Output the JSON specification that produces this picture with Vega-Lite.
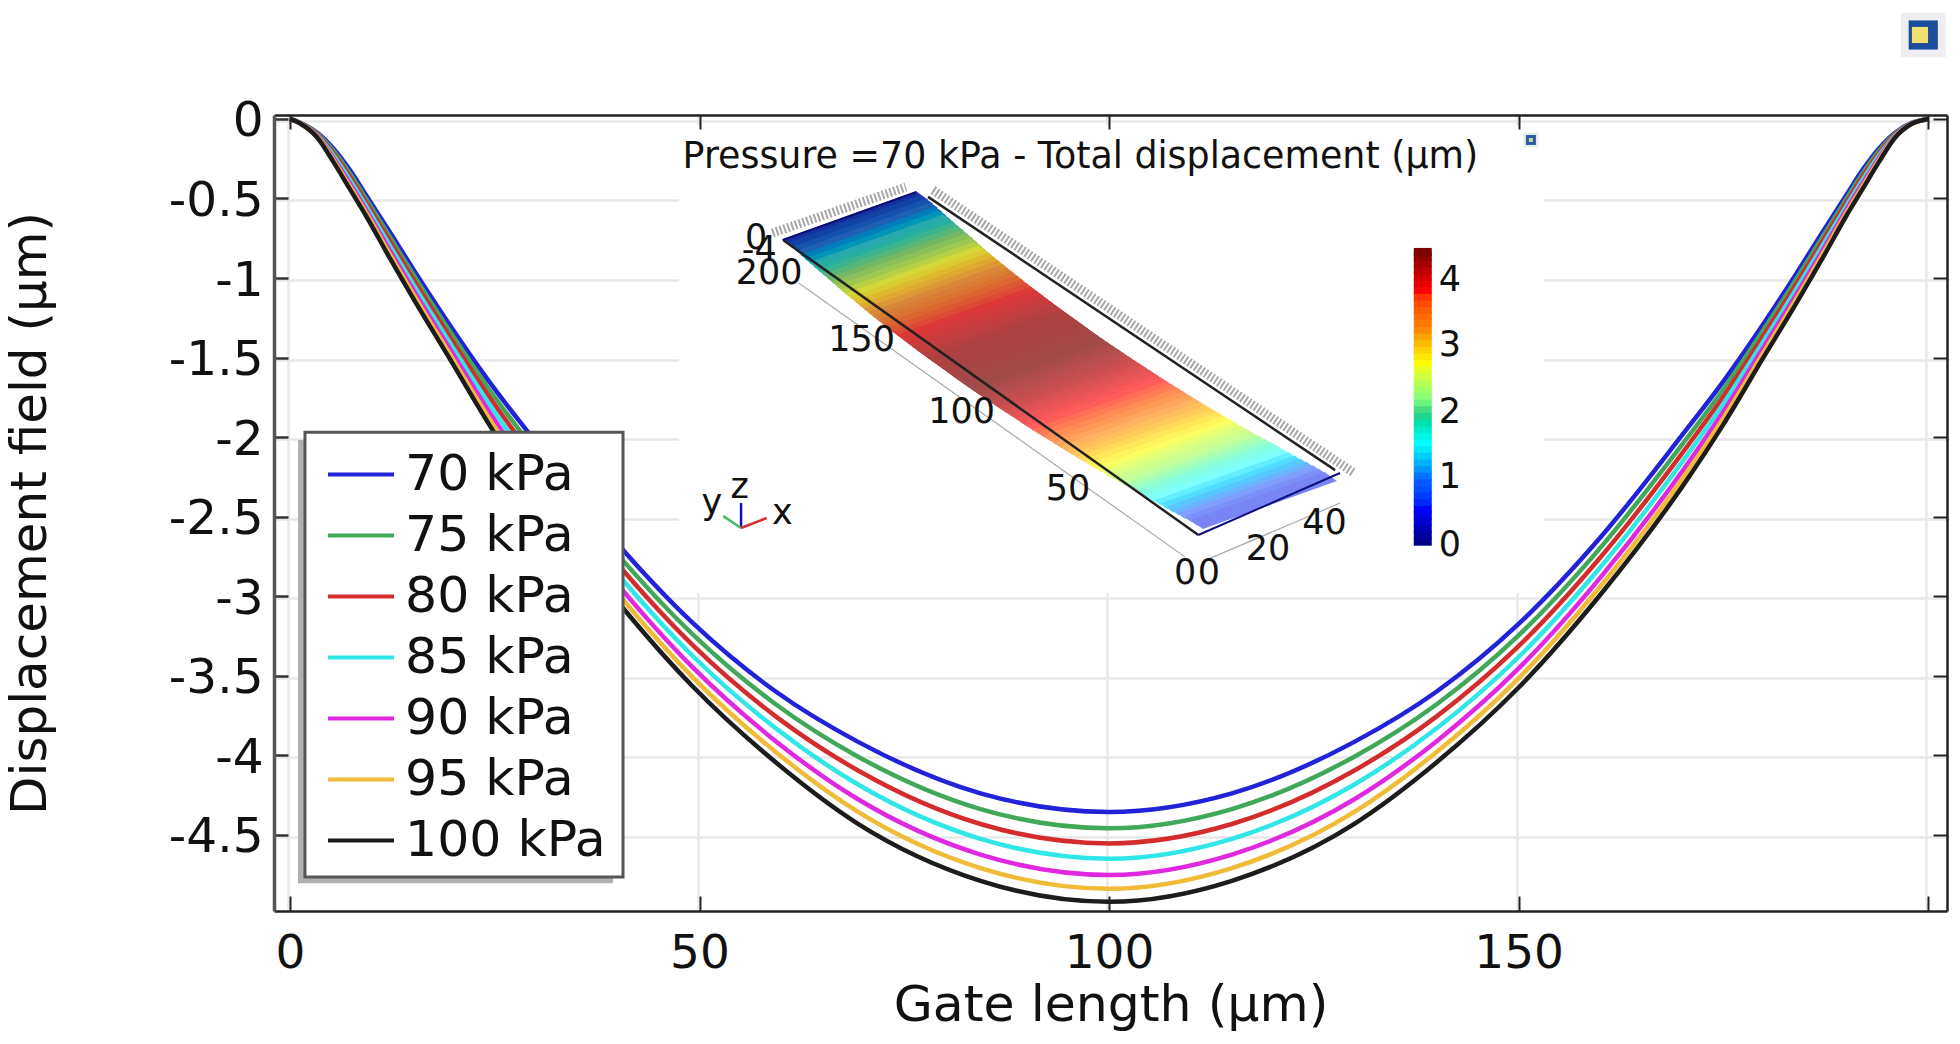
{"$schema":"https://vega.github.io/schema/vega-lite/v6.json","width":1673,"height":796,"autosize":{"type":"none"},"padding":{"left":274,"top":115,"right":13,"bottom":133},"background":"white","config":{"font":"DejaVu Sans","view":{"stroke":null}},"datasets":{"curves":[
{"x":0,"y":0,"p":"70 kPa"},{"x":1.3,"y":-0.025,"p":"70 kPa"},{"x":3.3,"y":-0.085,"p":"70 kPa"},{"x":5.3,"y":-0.185,"p":"70 kPa"},{"x":7.3,"y":-0.32,"p":"70 kPa"},{"x":9.3,"y":-0.48,"p":"70 kPa"},{"x":12.3,"y":-0.72,"p":"70 kPa"},{"x":15.3,"y":-0.965,"p":"70 kPa"},{"x":19.3,"y":-1.28,"p":"70 kPa"},{"x":24.3,"y":-1.65,"p":"70 kPa"},{"x":29.3,"y":-1.985,"p":"70 kPa"},{"x":39.3,"y":-2.63,"p":"70 kPa"},{"x":49.3,"y":-3.175,"p":"70 kPa"},{"x":59.3,"y":-3.6,"p":"70 kPa"},{"x":69.3,"y":-3.915,"p":"70 kPa"},{"x":84.3,"y":-4.24,"p":"70 kPa"},{"x":100,"y":-4.357,"p":"70 kPa"},{"x":115,"y":-4.24,"p":"70 kPa"},{"x":130,"y":-3.915,"p":"70 kPa"},{"x":140,"y":-3.6,"p":"70 kPa"},{"x":150,"y":-3.175,"p":"70 kPa"},{"x":160,"y":-2.63,"p":"70 kPa"},{"x":170,"y":-1.985,"p":"70 kPa"},{"x":175,"y":-1.65,"p":"70 kPa"},{"x":180,"y":-1.28,"p":"70 kPa"},{"x":184,"y":-0.965,"p":"70 kPa"},{"x":187,"y":-0.72,"p":"70 kPa"},{"x":190,"y":-0.48,"p":"70 kPa"},{"x":192,"y":-0.32,"p":"70 kPa"},{"x":194,"y":-0.185,"p":"70 kPa"},{"x":196,"y":-0.085,"p":"70 kPa"},{"x":198,"y":-0.025,"p":"70 kPa"},{"x":200,"y":0,"p":"70 kPa"},
{"x":0,"y":0,"p":"75 kPa"},{"x":1.3,"y":-0.026,"p":"75 kPa"},{"x":3.3,"y":-0.09,"p":"75 kPa"},{"x":5.3,"y":-0.2,"p":"75 kPa"},{"x":7.3,"y":-0.342,"p":"75 kPa"},{"x":9.3,"y":-0.503,"p":"75 kPa"},{"x":12.3,"y":-0.75,"p":"75 kPa"},{"x":15.3,"y":-0.998,"p":"75 kPa"},{"x":19.3,"y":-1.318,"p":"75 kPa"},{"x":24.3,"y":-1.699,"p":"75 kPa"},{"x":29.3,"y":-2.044,"p":"75 kPa"},{"x":39.3,"y":-2.695,"p":"75 kPa"},{"x":49.3,"y":-3.247,"p":"75 kPa"},{"x":59.3,"y":-3.68,"p":"75 kPa"},{"x":69.3,"y":-4.008,"p":"75 kPa"},{"x":84.3,"y":-4.339,"p":"75 kPa"},{"x":100,"y":-4.46,"p":"75 kPa"},{"x":115,"y":-4.339,"p":"75 kPa"},{"x":130,"y":-4.008,"p":"75 kPa"},{"x":140,"y":-3.68,"p":"75 kPa"},{"x":150,"y":-3.247,"p":"75 kPa"},{"x":160,"y":-2.695,"p":"75 kPa"},{"x":170,"y":-2.044,"p":"75 kPa"},{"x":175,"y":-1.699,"p":"75 kPa"},{"x":180,"y":-1.318,"p":"75 kPa"},{"x":184,"y":-0.998,"p":"75 kPa"},{"x":187,"y":-0.75,"p":"75 kPa"},{"x":190,"y":-0.503,"p":"75 kPa"},{"x":192,"y":-0.342,"p":"75 kPa"},{"x":194,"y":-0.2,"p":"75 kPa"},{"x":196,"y":-0.09,"p":"75 kPa"},{"x":198,"y":-0.026,"p":"75 kPa"},{"x":200,"y":0,"p":"75 kPa"},
{"x":0,"y":0,"p":"80 kPa"},{"x":1.3,"y":-0.027,"p":"80 kPa"},{"x":3.3,"y":-0.096,"p":"80 kPa"},{"x":5.3,"y":-0.215,"p":"80 kPa"},{"x":7.3,"y":-0.362,"p":"80 kPa"},{"x":9.3,"y":-0.526,"p":"80 kPa"},{"x":12.3,"y":-0.778,"p":"80 kPa"},{"x":15.3,"y":-1.03,"p":"80 kPa"},{"x":19.3,"y":-1.354,"p":"80 kPa"},{"x":24.3,"y":-1.745,"p":"80 kPa"},{"x":29.3,"y":-2.099,"p":"80 kPa"},{"x":39.3,"y":-2.756,"p":"80 kPa"},{"x":49.3,"y":-3.315,"p":"80 kPa"},{"x":59.3,"y":-3.756,"p":"80 kPa"},{"x":69.3,"y":-4.095,"p":"80 kPa"},{"x":84.3,"y":-4.433,"p":"80 kPa"},{"x":100,"y":-4.555,"p":"80 kPa"},{"x":115,"y":-4.433,"p":"80 kPa"},{"x":130,"y":-4.095,"p":"80 kPa"},{"x":140,"y":-3.756,"p":"80 kPa"},{"x":150,"y":-3.315,"p":"80 kPa"},{"x":160,"y":-2.756,"p":"80 kPa"},{"x":170,"y":-2.099,"p":"80 kPa"},{"x":175,"y":-1.745,"p":"80 kPa"},{"x":180,"y":-1.354,"p":"80 kPa"},{"x":184,"y":-1.03,"p":"80 kPa"},{"x":187,"y":-0.778,"p":"80 kPa"},{"x":190,"y":-0.526,"p":"80 kPa"},{"x":192,"y":-0.362,"p":"80 kPa"},{"x":194,"y":-0.215,"p":"80 kPa"},{"x":196,"y":-0.096,"p":"80 kPa"},{"x":198,"y":-0.027,"p":"80 kPa"},{"x":200,"y":0,"p":"80 kPa"},
{"x":0,"y":0,"p":"85 kPa"},{"x":1.3,"y":-0.028,"p":"85 kPa"},{"x":3.3,"y":-0.101,"p":"85 kPa"},{"x":5.3,"y":-0.229,"p":"85 kPa"},{"x":7.3,"y":-0.382,"p":"85 kPa"},{"x":9.3,"y":-0.548,"p":"85 kPa"},{"x":12.3,"y":-0.806,"p":"85 kPa"},{"x":15.3,"y":-1.061,"p":"85 kPa"},{"x":19.3,"y":-1.389,"p":"85 kPa"},{"x":24.3,"y":-1.79,"p":"85 kPa"},{"x":29.3,"y":-2.154,"p":"85 kPa"},{"x":39.3,"y":-2.817,"p":"85 kPa"},{"x":49.3,"y":-3.383,"p":"85 kPa"},{"x":59.3,"y":-3.831,"p":"85 kPa"},{"x":69.3,"y":-4.183,"p":"85 kPa"},{"x":84.3,"y":-4.526,"p":"85 kPa"},{"x":100,"y":-4.651,"p":"85 kPa"},{"x":115,"y":-4.526,"p":"85 kPa"},{"x":130,"y":-4.183,"p":"85 kPa"},{"x":140,"y":-3.831,"p":"85 kPa"},{"x":150,"y":-3.383,"p":"85 kPa"},{"x":160,"y":-2.817,"p":"85 kPa"},{"x":170,"y":-2.154,"p":"85 kPa"},{"x":175,"y":-1.79,"p":"85 kPa"},{"x":180,"y":-1.389,"p":"85 kPa"},{"x":184,"y":-1.061,"p":"85 kPa"},{"x":187,"y":-0.806,"p":"85 kPa"},{"x":190,"y":-0.548,"p":"85 kPa"},{"x":192,"y":-0.382,"p":"85 kPa"},{"x":194,"y":-0.229,"p":"85 kPa"},{"x":196,"y":-0.101,"p":"85 kPa"},{"x":198,"y":-0.028,"p":"85 kPa"},{"x":200,"y":0,"p":"85 kPa"},
{"x":0,"y":0,"p":"90 kPa"},{"x":1.3,"y":-0.029,"p":"90 kPa"},{"x":3.3,"y":-0.106,"p":"90 kPa"},{"x":5.3,"y":-0.245,"p":"90 kPa"},{"x":7.3,"y":-0.404,"p":"90 kPa"},{"x":9.3,"y":-0.571,"p":"90 kPa"},{"x":12.3,"y":-0.836,"p":"90 kPa"},{"x":15.3,"y":-1.095,"p":"90 kPa"},{"x":19.3,"y":-1.427,"p":"90 kPa"},{"x":24.3,"y":-1.839,"p":"90 kPa"},{"x":29.3,"y":-2.213,"p":"90 kPa"},{"x":39.3,"y":-2.882,"p":"90 kPa"},{"x":49.3,"y":-3.455,"p":"90 kPa"},{"x":59.3,"y":-3.912,"p":"90 kPa"},{"x":69.3,"y":-4.276,"p":"90 kPa"},{"x":84.3,"y":-4.625,"p":"90 kPa"},{"x":100,"y":-4.753,"p":"90 kPa"},{"x":115,"y":-4.625,"p":"90 kPa"},{"x":130,"y":-4.276,"p":"90 kPa"},{"x":140,"y":-3.912,"p":"90 kPa"},{"x":150,"y":-3.455,"p":"90 kPa"},{"x":160,"y":-2.882,"p":"90 kPa"},{"x":170,"y":-2.213,"p":"90 kPa"},{"x":175,"y":-1.839,"p":"90 kPa"},{"x":180,"y":-1.427,"p":"90 kPa"},{"x":184,"y":-1.095,"p":"90 kPa"},{"x":187,"y":-0.836,"p":"90 kPa"},{"x":190,"y":-0.571,"p":"90 kPa"},{"x":192,"y":-0.404,"p":"90 kPa"},{"x":194,"y":-0.245,"p":"90 kPa"},{"x":196,"y":-0.106,"p":"90 kPa"},{"x":198,"y":-0.029,"p":"90 kPa"},{"x":200,"y":0,"p":"90 kPa"},
{"x":0,"y":0,"p":"95 kPa"},{"x":1.3,"y":-0.03,"p":"95 kPa"},{"x":3.3,"y":-0.111,"p":"95 kPa"},{"x":5.3,"y":-0.258,"p":"95 kPa"},{"x":7.3,"y":-0.423,"p":"95 kPa"},{"x":9.3,"y":-0.591,"p":"95 kPa"},{"x":12.3,"y":-0.861,"p":"95 kPa"},{"x":15.3,"y":-1.123,"p":"95 kPa"},{"x":19.3,"y":-1.46,"p":"95 kPa"},{"x":24.3,"y":-1.881,"p":"95 kPa"},{"x":29.3,"y":-2.263,"p":"95 kPa"},{"x":39.3,"y":-2.938,"p":"95 kPa"},{"x":49.3,"y":-3.517,"p":"95 kPa"},{"x":59.3,"y":-3.98,"p":"95 kPa"},{"x":69.3,"y":-4.355,"p":"95 kPa"},{"x":84.3,"y":-4.71,"p":"95 kPa"},{"x":100,"y":-4.84,"p":"95 kPa"},{"x":115,"y":-4.71,"p":"95 kPa"},{"x":130,"y":-4.355,"p":"95 kPa"},{"x":140,"y":-3.98,"p":"95 kPa"},{"x":150,"y":-3.517,"p":"95 kPa"},{"x":160,"y":-2.938,"p":"95 kPa"},{"x":170,"y":-2.263,"p":"95 kPa"},{"x":175,"y":-1.881,"p":"95 kPa"},{"x":180,"y":-1.46,"p":"95 kPa"},{"x":184,"y":-1.123,"p":"95 kPa"},{"x":187,"y":-0.861,"p":"95 kPa"},{"x":190,"y":-0.591,"p":"95 kPa"},{"x":192,"y":-0.423,"p":"95 kPa"},{"x":194,"y":-0.258,"p":"95 kPa"},{"x":196,"y":-0.111,"p":"95 kPa"},{"x":198,"y":-0.03,"p":"95 kPa"},{"x":200,"y":0,"p":"95 kPa"},
{"x":0,"y":0,"p":"100 kPa"},{"x":1.3,"y":-0.03,"p":"100 kPa"},{"x":3.3,"y":-0.115,"p":"100 kPa"},{"x":5.3,"y":-0.27,"p":"100 kPa"},{"x":7.3,"y":-0.44,"p":"100 kPa"},{"x":9.3,"y":-0.61,"p":"100 kPa"},{"x":12.3,"y":-0.885,"p":"100 kPa"},{"x":15.3,"y":-1.15,"p":"100 kPa"},{"x":19.3,"y":-1.49,"p":"100 kPa"},{"x":24.3,"y":-1.92,"p":"100 kPa"},{"x":29.3,"y":-2.31,"p":"100 kPa"},{"x":39.3,"y":-2.99,"p":"100 kPa"},{"x":49.3,"y":-3.575,"p":"100 kPa"},{"x":59.3,"y":-4.045,"p":"100 kPa"},{"x":69.3,"y":-4.43,"p":"100 kPa"},{"x":84.3,"y":-4.79,"p":"100 kPa"},{"x":100,"y":-4.922,"p":"100 kPa"},{"x":115,"y":-4.79,"p":"100 kPa"},{"x":130,"y":-4.43,"p":"100 kPa"},{"x":140,"y":-4.045,"p":"100 kPa"},{"x":150,"y":-3.575,"p":"100 kPa"},{"x":160,"y":-2.99,"p":"100 kPa"},{"x":170,"y":-2.31,"p":"100 kPa"},{"x":175,"y":-1.92,"p":"100 kPa"},{"x":180,"y":-1.49,"p":"100 kPa"},{"x":184,"y":-1.15,"p":"100 kPa"},{"x":187,"y":-0.885,"p":"100 kPa"},{"x":190,"y":-0.61,"p":"100 kPa"},{"x":192,"y":-0.44,"p":"100 kPa"},{"x":194,"y":-0.27,"p":"100 kPa"},{"x":196,"y":-0.115,"p":"100 kPa"},{"x":198,"y":-0.03,"p":"100 kPa"},{"x":200,"y":0,"p":"100 kPa"}],
"surface":[{"x":69.0,"y":-0.633,"s":197.5},{"x":69.57,"y":-0.657,"s":195},{"x":70.14,"y":-0.681,"s":192.5},{"x":70.68,"y":-0.706,"s":190},{"x":71.21,"y":-0.73,"s":187.5},{"x":71.75,"y":-0.755,"s":185},{"x":72.29,"y":-0.779,"s":182.5},{"x":72.84,"y":-0.804,"s":180},{"x":73.38,"y":-0.828,"s":177.5},{"x":73.93,"y":-0.852,"s":175},{"x":74.48,"y":-0.876,"s":172.5},{"x":75.02,"y":-0.9,"s":170},{"x":75.56,"y":-0.925,"s":167.5},{"x":76.11,"y":-0.95,"s":165},{"x":76.66,"y":-0.974,"s":162.5},{"x":77.23,"y":-0.998,"s":160},{"x":77.8,"y":-1.022,"s":157.5},{"x":78.36,"y":-1.046,"s":155},{"x":78.92,"y":-1.069,"s":152.5},{"x":79.5,"y":-1.093,"s":150},{"x":80.08,"y":-1.117,"s":147.5},{"x":80.66,"y":-1.141,"s":145},{"x":81.23,"y":-1.165,"s":142.5},{"x":81.83,"y":-1.189,"s":140},{"x":82.42,"y":-1.212,"s":137.5},{"x":83.02,"y":-1.235,"s":135},{"x":83.62,"y":-1.258,"s":132.5},{"x":84.23,"y":-1.282,"s":130},{"x":84.83,"y":-1.306,"s":127.5},{"x":85.44,"y":-1.329,"s":125},{"x":86.05,"y":-1.352,"s":122.5},{"x":86.67,"y":-1.375,"s":120},{"x":87.28,"y":-1.397,"s":117.5},{"x":87.9,"y":-1.42,"s":115},{"x":88.51,"y":-1.443,"s":112.5},{"x":89.14,"y":-1.467,"s":110},{"x":89.77,"y":-1.49,"s":107.5},{"x":90.4,"y":-1.513,"s":105},{"x":91.02,"y":-1.535,"s":102.5},{"x":91.66,"y":-1.558,"s":100},{"x":92.3,"y":-1.58,"s":97.5},{"x":92.96,"y":-1.603,"s":95},{"x":93.61,"y":-1.625,"s":92.5},{"x":94.26,"y":-1.648,"s":90},{"x":94.91,"y":-1.67,"s":87.5},{"x":95.58,"y":-1.692,"s":85},{"x":96.24,"y":-1.714,"s":82.5},{"x":96.9,"y":-1.737,"s":80},{"x":97.56,"y":-1.759,"s":77.5},{"x":98.23,"y":-1.782,"s":75},{"x":98.9,"y":-1.804,"s":72.5},{"x":99.57,"y":-1.826,"s":70},{"x":100.24,"y":-1.847,"s":67.5},{"x":100.92,"y":-1.869,"s":65},{"x":101.6,"y":-1.891,"s":62.5},{"x":102.29,"y":-1.913,"s":60},{"x":102.97,"y":-1.934,"s":57.5},{"x":103.68,"y":-1.956,"s":55},{"x":104.38,"y":-1.978,"s":52.5},{"x":105.08,"y":-1.999,"s":50},{"x":105.78,"y":-2.02,"s":47.5},{"x":106.5,"y":-2.042,"s":45},{"x":107.22,"y":-2.063,"s":42.5},{"x":107.93,"y":-2.085,"s":40},{"x":108.64,"y":-2.106,"s":37.5},{"x":109.37,"y":-2.127,"s":35},{"x":110.1,"y":-2.148,"s":32.5},{"x":110.84,"y":-2.169,"s":30},{"x":111.57,"y":-2.189,"s":27.5},{"x":112.3,"y":-2.21,"s":25},{"x":113.03,"y":-2.231,"s":22.5},{"x":113.76,"y":-2.253,"s":20},{"x":114.49,"y":-2.274,"s":17.5},{"x":115.23,"y":-2.295,"s":15},{"x":115.97,"y":-2.315,"s":12.5},{"x":116.72,"y":-2.336,"s":10},{"x":117.46,"y":-2.356,"s":7.5},{"x":118.17,"y":-2.378,"s":5},{"x":118.88,"y":-2.399,"s":2.5}],
"colorbar":[{"v":0.05,"y":-2.658},{"v":0.15,"y":-2.616},{"v":0.25,"y":-2.575},{"v":0.35,"y":-2.533},{"v":0.45,"y":-2.491},{"v":0.55,"y":-2.45},{"v":0.65,"y":-2.408},{"v":0.75,"y":-2.366},{"v":0.85,"y":-2.325},{"v":0.95,"y":-2.283},{"v":1.05,"y":-2.241},{"v":1.15,"y":-2.199},{"v":1.25,"y":-2.158},{"v":1.35,"y":-2.116},{"v":1.45,"y":-2.074},{"v":1.55,"y":-2.033},{"v":1.65,"y":-1.991},{"v":1.75,"y":-1.949},{"v":1.85,"y":-1.908},{"v":1.95,"y":-1.866},{"v":2.05,"y":-1.824},{"v":2.15,"y":-1.782},{"v":2.25,"y":-1.741},{"v":2.35,"y":-1.699},{"v":2.45,"y":-1.657},{"v":2.55,"y":-1.616},{"v":2.65,"y":-1.574},{"v":2.75,"y":-1.532},{"v":2.85,"y":-1.491},{"v":2.95,"y":-1.449},{"v":3.05,"y":-1.407},{"v":3.15,"y":-1.365},{"v":3.25,"y":-1.324},{"v":3.35,"y":-1.282},{"v":3.45,"y":-1.24},{"v":3.55,"y":-1.199},{"v":3.65,"y":-1.157},{"v":3.75,"y":-1.115},{"v":3.85,"y":-1.074},{"v":3.95,"y":-1.032},{"v":4.05,"y":-0.99},{"v":4.15,"y":-0.948},{"v":4.25,"y":-0.907},{"v":4.35,"y":-0.865},{"v":4.42,"y":-0.836}]},
"layer":[
{"data":{"values":[{"x":0,"y":0}]},"mark":{"type":"point","opacity":0},"encoding":{"x":{"field":"x","type":"quantitative","scale":{"domain":[-1.95,202.3],"nice":false,"zero":false},"axis":{"orient":"bottom","values":[0,50,100,150,200],"grid":true,"gridColor":"#e8e8e8","gridWidth":2.5,"translate":-1.5,"labels":false,"ticks":false,"domain":false,"title":null,"zindex":0}},"y":{"field":"y","type":"quantitative","scale":{"domain":[-4.98,0.025],"nice":false,"zero":false},"axis":{"orient":"left","values":[0,-0.5,-1,-1.5,-2,-2.5,-3,-3.5,-4,-4.5],"grid":true,"gridColor":"#e8e8e8","gridWidth":2.5,"translate":2.5,"labels":false,"ticks":false,"domain":false,"title":null,"zindex":0}}}},
{"data":{"values":[{"x":0,"y":0}]},"mark":{"type":"point","opacity":0},"encoding":{"x":{"field":"x","type":"quantitative","axis":{"orient":"top","values":[0,50,100,150,200],"grid":false,"labels":false,"tickSize":-14,"tickWidth":2,"tickColor":"#222","domainColor":"#222","domainWidth":2.5,"title":null,"zindex":1}},"y":{"field":"y","type":"quantitative","axis":{"orient":"right","values":[0,-0.5,-1,-1.5,-2,-2.5,-3,-3.5,-4,-4.5],"grid":false,"labels":false,"tickSize":-14,"tickWidth":2,"tickColor":"#222","domainColor":"#222","domainWidth":2.5,"title":null,"zindex":1}}}},
{"data":{"values":[{"x":47.5,"x2":153.1,"y":-0.04,"y2":-2.98}]},"mark":{"type":"rect","fill":"white"},"encoding":{"x":{"field":"x","type":"quantitative","axis":null},"x2":{"field":"x2"},"y":{"field":"y","type":"quantitative","axis":null},"y2":{"field":"y2"}}},
{"data":{"name":"curves"},"mark":{"type":"line","strokeWidth":4.5,"interpolate":"monotone"},"encoding":{"x":{"field":"x","type":"quantitative","axis":{"orient":"bottom","values":[0,50,100,150,200],"grid":false,"labelExpr":"datum.value==200?'':''+datum.value","labelFontSize":47,"labelColor":"#111","labelPadding":34,"labelFlush":false,"tickSize":-15,"tickWidth":2,"tickColor":"#222","domainColor":"#222","domainWidth":2.5,"title":"Gate length (µm)","titleFontSize":50.5,"titleFontWeight":"normal","titleColor":"#111","titlePadding":4,"zindex":1}},"y":{"field":"y","type":"quantitative","axis":{"orient":"left","values":[0,-0.5,-1,-1.5,-2,-2.5,-3,-3.5,-4,-4.5],"grid":false,"labelExpr":"''+datum.value","labelFontSize":48.5,"labelColor":"#111","labelPadding":25,"labelOffset":2,"tickSize":-14,"tickWidth":2.5,"tickColor":"#333","domainColor":"#555","domainWidth":3.5,"title":"Displacement field (µm)","titleFontSize":50,"titleFontWeight":"normal","titleColor":"#111","titlePadding":113,"zindex":1}},"color":{"field":"p","type":"nominal","sort":null,"scale":{"domain":["70 kPa","75 kPa","80 kPa","85 kPa","90 kPa","95 kPa","100 kPa"],"range":["#2222d8","#40a858","#d42c2c","#30e6e6","#e028e0","#f0bc38","#1c1c1c"]},"legend":{"orient":"none","legendX":52,"legendY":329,"title":null,"symbolType":"stroke","symbolSize":4356,"symbolStrokeWidth":4,"labelFontSize":50.5,"labelColor":"#111","labelLimit":0,"clipHeight":61,"rowPadding":0,"padding":0,"labelOffset":9,"fillColor":null,"strokeColor":null}}}},
{"data":{"values":[{"x":0.98,"x2":39.44,"y":-2.019,"y2":-4.805}]},"mark":{"type":"rect","fill":"#b0b0b0"},"encoding":{"x":{"field":"x","type":"quantitative","axis":null},"x2":{"field":"x2"},"y":{"field":"y","type":"quantitative","axis":null},"y2":{"field":"y2"}}},
{"data":{"values":[{"x":1.83,"x2":40.66,"y":-1.969,"y2":-4.767}]},"mark":{"type":"rect","fill":"white","stroke":"#555555","strokeWidth":3},"encoding":{"x":{"field":"x","type":"quantitative","axis":null},"x2":{"field":"x2"},"y":{"field":"y","type":"quantitative","axis":null},"y2":{"field":"y2"}}},
{"data":{"name":"surface"},"mark":{"type":"point","filled":true,"opacity":1,"size":4,"shape":"M60.8,-28.4L73.2,-19.6L-60.8,28.4L-73.2,19.6Z"},"encoding":{"x":{"field":"x","type":"quantitative","axis":null},"y":{"field":"y","type":"quantitative","axis":null},"order":{"field":"s","sort":"descending"},"color":{"field":"s","type":"quantitative","legend":null,"scale":{"domain":[0,8,20,32,43,58,73,85,100,120,135,150,162,172,183,190,200],"range":["#7878f0","#80a0ff","#80ffff","#c0ffa0","#ffff60","#ffb060","#ff5a5a","#d05050","#a04a4a","#b04040","#dc3838","#d88838","#d8d838","#7ab860","#2aa8b0","#2060b4","#1e1e96"]}}}},
{"data":{"values":[{"x":58.9,"y":-0.717,"x2":75.2,"y2":-0.428},{"x":78.5,"y":-0.447,"x2":129.9,"y2":-2.226}]},"mark":{"type":"rule","color":"#a8a8a8","strokeWidth":9,"strokeDash":[2,2]},"encoding":{"x":{"field":"x","type":"quantitative","axis":null},"y":{"field":"y","type":"quantitative","axis":null},"x2":{"field":"x2"},"y2":{"field":"y2"}}},
{"data":{"values":[{"x":62.1,"y":-1.031,"x2":109.3,"y2":-2.755},{"x":111.8,"y":-2.774,"x2":128.2,"y2":-2.415}]},"mark":{"type":"rule","color":"#aaaaaa","strokeWidth":1.2},"encoding":{"x":{"field":"x","type":"quantitative","axis":null},"y":{"field":"y","type":"quantitative","axis":null},"x2":{"field":"x2"},"y2":{"field":"y2"}}},
{"data":{"values":[{"x":60.2,"y":-0.761,"x2":110.9,"y2":-2.616},{"x":77.9,"y":-0.49,"x2":127.6,"y2":-2.208}]},"mark":{"type":"rule","color":"#222222","strokeWidth":2.5},"encoding":{"x":{"field":"x","type":"quantitative","axis":null},"y":{"field":"y","type":"quantitative","axis":null},"x2":{"field":"x2"},"y2":{"field":"y2"}}},
{"data":{"values":[{"x":60.2,"y":-0.761,"x2":76.5,"y2":-0.459},{"x":110.9,"y":-2.616,"x2":128.2,"y2":-2.226}]},"mark":{"type":"rule","color":"#10107a","strokeWidth":2},"encoding":{"x":{"field":"x","type":"quantitative","axis":null},"y":{"field":"y","type":"quantitative","axis":null},"x2":{"field":"x2"},"y2":{"field":"y2"}}},
{"data":{"values":[{"x":55.07,"y":-2.572,"x2":55.07,"y2":-2.415,"axis":"z"},{"x":55.07,"y":-2.572,"x2":52.9,"y2":-2.497,"axis":"y"},{"x":55.07,"y":-2.572,"x2":58.2,"y2":-2.509,"axis":"x"}]},"mark":{"type":"rule","strokeWidth":2.5},"encoding":{"x":{"field":"x","type":"quantitative","axis":null},"y":{"field":"y","type":"quantitative","axis":null},"x2":{"field":"x2"},"y2":{"field":"y2"},"color":{"field":"axis","type":"nominal","legend":null,"scale":{"domain":["x","y","z"],"range":["#d83030","#40c060","#1010c0"]}}}},
{"data":{"name":"colorbar"},"mark":{"type":"point","filled":true,"opacity":1,"size":4,"shape":"M-9,-4L9,-4L9,4L-9,4Z"},"encoding":{"x":{"datum":138.3,"type":"quantitative","axis":null},"y":{"field":"y","type":"quantitative","axis":null},"color":{"field":"v","type":"quantitative","legend":null,"scale":{"domain":[0,0.55,1,1.55,2,2.2,2.75,3.3,3.85,4.42],"range":["#00007f","#0000ff","#0060ff","#00ffff","#30d080","#80ff80","#ffff00","#ff8000","#ff0000","#7f0000"]}}}},
{"data":{"values":[{"x":96.5,"y":-0.24,"t":"Pressure =70 kPa - Total displacement (µm)"}]},"mark":{"type":"text","fontSize":36.4,"baseline":"middle","align":"center","color":"#111111"},"encoding":{"x":{"field":"x","type":"quantitative","axis":null},"y":{"field":"y","type":"quantitative","axis":null},"text":{"field":"t"}}},
{"data":{"values":[{"x":56.9,"y":-0.748,"t":"0"},{"x":57.3,"y":-0.824,"t":"-4"},{"x":58.5,"y":-0.969,"t":"200"},{"x":69.8,"y":-1.39,"t":"150"},{"x":82.0,"y":-1.843,"t":"100"},{"x":95.0,"y":-2.327,"t":"50"},{"x":109.3,"y":-2.855,"t":"0"},{"x":112.2,"y":-2.855,"t":"0"},{"x":119.4,"y":-2.704,"t":"20"},{"x":126.3,"y":-2.541,"t":"40"},{"x":51.5,"y":-2.415,"t":"y"},{"x":54.9,"y":-2.314,"t":"z"},{"x":60.1,"y":-2.478,"t":"x"},{"x":141.6,"y":-1.013,"t":"4"},{"x":141.6,"y":-1.421,"t":"3"},{"x":141.6,"y":-1.843,"t":"2"},{"x":141.6,"y":-2.252,"t":"1"},{"x":141.6,"y":-2.679,"t":"0"}]},"mark":{"type":"text","fontSize":35,"baseline":"middle","align":"center","color":"#111111"},"encoding":{"x":{"field":"x","type":"quantitative","axis":null},"y":{"field":"y","type":"quantitative","axis":null},"text":{"field":"t"}}},
{"data":{"values":[{"x":199.4,"y":0.528,"part":"1halo"},{"x":199.4,"y":0.528,"part":"2body"},{"x":199.0,"y":0.528,"part":"3core"},{"x":151.5,"y":-0.132,"part":"4minihalo"},{"x":151.5,"y":-0.132,"part":"5minibody"},{"x":151.5,"y":-0.132,"part":"6minicore"}]},"mark":{"type":"point","filled":true,"opacity":1,"shape":"square"},"encoding":{"x":{"field":"x","type":"quantitative","axis":null},"y":{"field":"y","type":"quantitative","axis":null},"color":{"field":"part","type":"nominal","legend":null,"scale":{"domain":["1halo","2body","3core","4minihalo","5minibody","6minicore"],"range":["#eeeef2","#1c4c9c","#f0e070","#e6ecf4","#2a5ca8","#c8d8a0"]}},"size":{"field":"part","type":"ordinal","legend":null,"scale":{"type":"ordinal","domain":["1halo","2body","3core","4minihalo","5minibody","6minicore"],"range":[2000,850,260,225,100,16]}},"order":{"field":"part","sort":"ascending"}}}
],"resolve":{"scale":{"color":"independent","size":"independent"},"axis":{"x":"independent","y":"independent"}}}
